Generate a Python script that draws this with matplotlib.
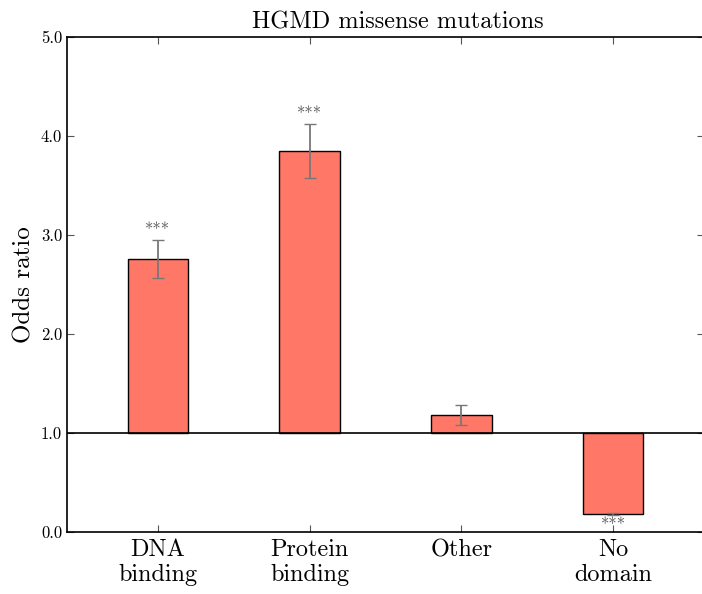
import numpy as np
import matplotlib
matplotlib.use("Agg")
import matplotlib.pyplot as plt

plt.rcParams["font.family"] = "serif"
plt.rcParams["font.serif"] = ["cmr10"]
plt.rcParams["mathtext.fontset"] = "cm"
plt.rcParams["axes.unicode_minus"] = False
plt.rcParams["axes.formatter.use_mathtext"] = True

categories = ["DNA\nbinding", "Protein\nbinding", "Other", "No\ndomain"]
odds = [2.76, 3.85, 1.18, 0.18]
ci_low = [2.57, 3.58, 1.08, 0.17]
ci_high = [2.95, 4.12, 1.28, 0.19]
stars = ["***", "***", "", "***"]

x = np.arange(len(categories))
odds = np.array(odds)
err = [odds - np.array(ci_low), np.array(ci_high) - odds]

fig = plt.figure(figsize=(7.02, 5.94), dpi=100)
ax = fig.add_axes([67 / 702, 62 / 594, 637 / 702, 495 / 594])

ax.bar(x, odds - 1.0, bottom=1.0, width=0.4, color="#ff7766",
       edgecolor="black", linewidth=1.0, zorder=2)
ax.errorbar(x, odds, yerr=err, fmt="none", ecolor="#777777",
            elinewidth=1.3, capsize=4, capthick=1.0, zorder=3)
ax.axhline(1.0, color="black", linewidth=1.2, zorder=4)

for xi, o, lo, hi, s in zip(x, odds, ci_low, ci_high, stars):
    if not s:
        continue
    if o >= 1:
        ax.text(xi, hi + 0.02, s, ha="center", va="bottom", fontsize=12, color="#555555")
    else:
        ax.text(xi, lo - 0.03, s, ha="center", va="top", fontsize=12, color="#555555")

ax.set_xlim(-0.6, 3.6)
ax.set_ylim(0, 5)
ax.set_yticks(np.arange(0, 5.1, 1.0))
ax.set_yticklabels([f"{v:.1f}" for v in np.arange(0, 5.1, 1.0)], fontsize=12)
ax.set_xticks(x)
ax.set_xticklabels(categories, fontsize=17.5, linespacing=1.15)
ax.tick_params(direction="in", top=True, right=True, length=5, width=0.8, color="#555555")
ax.tick_params(axis="x", pad=5)
ax.set_ylabel("Odds ratio", fontsize=18)
ax.set_title("HGMD missense mutations", fontsize=17.5, pad=6, x=0.52)
for sp in ax.spines.values():
    sp.set_linewidth(1.2)

fig.savefig("out.png", dpi=100)
